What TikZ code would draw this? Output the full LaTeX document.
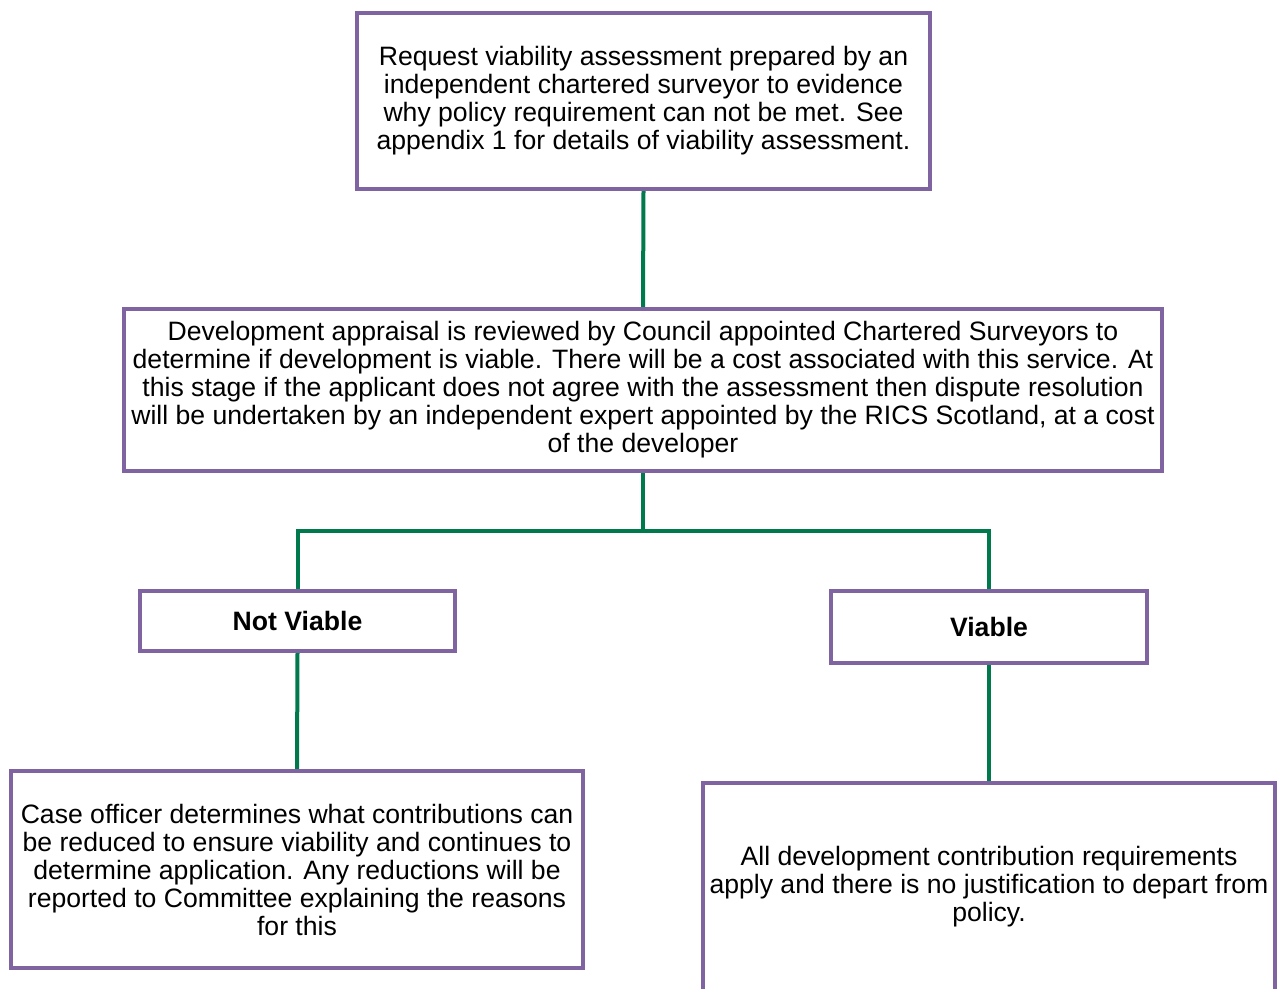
\documentclass[tikz,border=0pt]{standalone}
\usepackage{fontspec}
\setmainfont{Liberation Sans}
\usetikzlibrary{backgrounds}
\definecolor{boxpurple}{RGB}{128,100,162}
\definecolor{linegreen}{RGB}{0,122,77}
\begin{document}
\begin{tikzpicture}[x=1pt,y=-1pt,
  box/.style={draw=boxpurple, line width=4pt, fill=white, align=center, inner sep=0pt,
    font=\fontsize{26.6}{28}\selectfont},
  conn/.style={draw=linegreen, line width=4pt, line join=miter}]
\clip (0,0) rectangle (1277,988);
\useasboundingbox (0,0) rectangle (1277,988);
\node[box, minimum width=573pt, minimum height=176pt] (b1) at (643.5,101)
  {Request viability assessment prepared by an\\independent chartered surveyor to evidence\\why policy requirement can not be met. See\\appendix 1 for details of viability assessment.};
\node[box, minimum width=1038pt, minimum height=162pt] (b2) at (643,390)
  {Development appraisal is reviewed by Council appointed Chartered Surveyors to\\determine if development is viable. There will be a cost associated with this service. At\\this stage if the applicant does not agree with the assessment then dispute resolution\\will be undertaken by an independent expert appointed by the RICS Scotland, at a cost\\of the developer};
\node[box, minimum width=315pt, minimum height=60pt, font=\fontsize{26.6}{28}\selectfont\bfseries] (nv) at (297.5,621) {Not Viable};
\node[box, minimum width=316pt, minimum height=72pt, font=\fontsize{26.6}{28}\selectfont\bfseries] (v) at (989,627) {Viable};
\node[box, minimum width=572pt, minimum height=197pt] (b5) at (297,869.5)
  {Case officer determines what contributions can\\be reduced to ensure viability and continues to\\determine application. Any reductions will be\\reported to Committee explaining the reasons\\for this};
\node[box, minimum width=572pt, minimum height=208pt] (b6) at (989,887)
  {All development contribution requirements\\apply and there is no justification to depart from\\policy.};
\coordinate (j) at (643,531);
\begin{pgfonlayer}{background}
\draw[conn] (b1.south) -- (b2.north);
\draw[conn] (b2.south) -- (j);
\draw[conn] (nv.north) -- (nv.north |- j) -- (v.north |- j) -- (v.north);
\draw[conn] (nv.south) -- (b5.north);
\draw[conn] (v.south) -- (b6.north);
\end{pgfonlayer}
\end{tikzpicture}
\end{document}
